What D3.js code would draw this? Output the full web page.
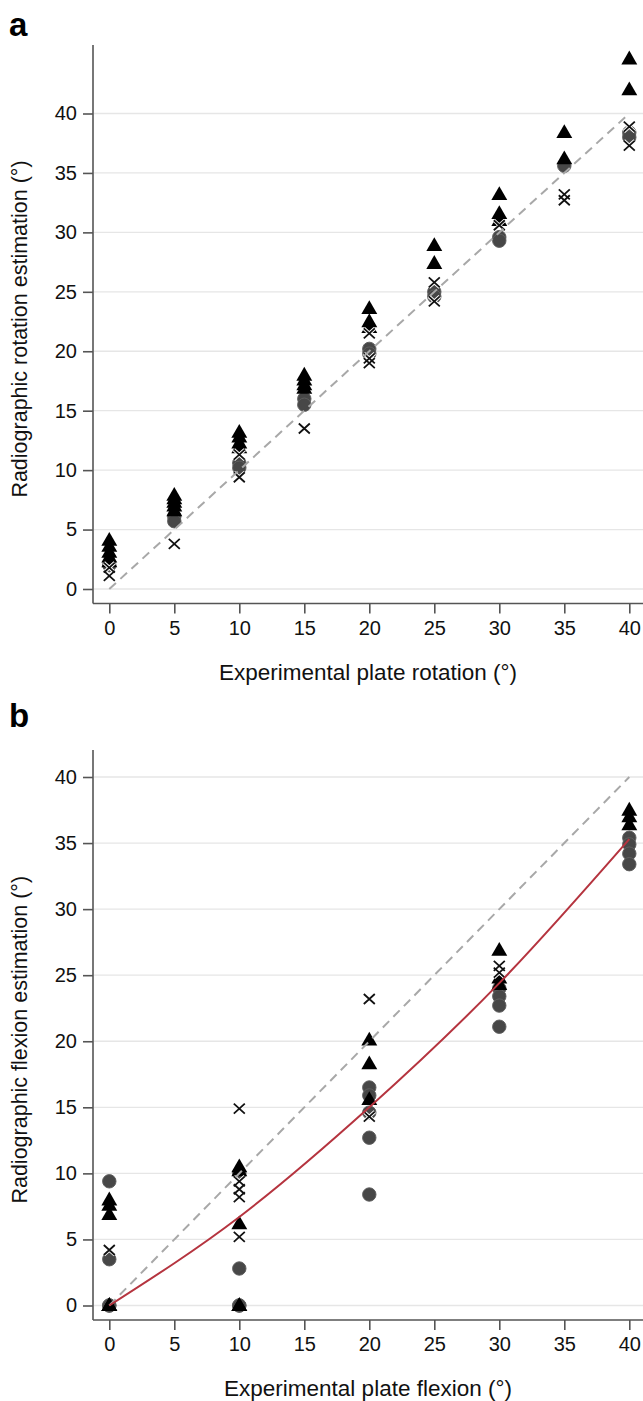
<!DOCTYPE html>
<html>
<head>
<meta charset="utf-8">
<script src="https://cdn.jsdelivr.net/npm/d3@7"></script>
<style>
  body { margin: 0; background: #fff; }
  text { font-family: "Liberation Sans", Arial, sans-serif; }
</style>
</head>
<body>
<script>
// Data
let rotX = [0, 5, 10, 15, 20, 25, 30, 35, 40];
let rotTri = [[4.1, 3.6, 3.1, 2.7, 2.3], [7.9, 7.6, 7.3, 7.0, 6.6], [13.2, 12.8, 12.3, 11.9], [18.0, 17.6, 17.2, 16.9],
  [23.6, 22.5, 22.0], [28.9, 27.4], [33.2, 31.6, 31.0], [38.4, 36.2], [44.6, 42.0]];
let rotCirc = [[2.0], [6.1, 5.7], [10.6, 10.2], [16.0, 15.5], [20.2, 19.8], [25.0, 24.6], [29.6, 29.3], [35.6], [38.4, 38.0]];
let rotCross = [[1.1, 1.8], [3.8], [11.3, 9.4], [13.5], [21.5, 19.4, 19.0], [25.8, 24.2], [30.6], [33.2, 32.7], [38.9, 37.3]];

let flexX = [0, 10, 20, 30, 40];
let flexTri = [[8.0, 7.6, 6.9, 0, 0, 0], [10.5, 10.2, 6.2, 0, 0], [20.1, 18.3, 15.6], [26.9, 24.8, 24.3], [37.5, 37.0, 36.4]];
let flexCirc = [[9.4, 3.5, 0, 0], [10.0, 2.8, 0, 0], [16.5, 15.9, 14.6, 12.7, 8.4], [24.0, 23.4, 22.7, 21.1], [35.4, 34.9, 34.2, 33.4]];
let flexCross = [[4.2], [14.9, 9.4, 8.8, 8.2, 5.2], [23.2, 14.3], [25.7, 25.2], []];

// fitted curve (read at a few points)
let fitX = [0, 10, 20, 30, 40];
let fitY = [0, 6.7, 15.0, 24.4, 35.3];

let xTicks = [0, 5, 10, 15, 20, 25, 30, 35, 40];
let yTicks = [0, 5, 10, 15, 20, 25, 30, 35, 40];

let width = 643, height = 1401;
let svg = d3.select("body").append("svg")
  .attr("width", width)
  .attr("height", height);

function flatten(xs, groups) {
  let out = [];
  groups.forEach((g, i) => g.forEach(v => out.push([xs[i], v])));
  return out;
}

function panel(cfg) {
  let x = d3.scaleLinear().domain([0, 40]).range([109.3, 629.3]);
  let y = d3.scaleLinear().domain([0, 40]).range([cfg.y0, cfg.y40]);
  let g = svg.append("g");
  let axisLeftX = 93;
  let axisBottomY = cfg.y0 + 14.5;

  // gridlines
  g.selectAll(".grid").data(yTicks).enter().append("line")
    .attr("x1", axisLeftX + 1).attr("x2", width)
    .attr("y1", d => y(d)).attr("y2", d => y(d))
    .attr("stroke", "#e6e6e6").attr("stroke-width", 1.3);

  // markers
  let circ = flatten(cfg.xs, cfg.circ);
  g.selectAll(".circ").data(circ).enter().append("circle")
    .attr("cx", d => x(d[0])).attr("cy", d => y(d[1]))
    .attr("r", 6.7)
    .attr("fill", "#474747").attr("stroke", "#5e5e5e").attr("stroke-width", 1);

  let tri = flatten(cfg.xs, cfg.tri);
  g.selectAll(".tri").data(tri).enter().append("path")
    .attr("d", d3.symbol().type(d3.symbolTriangle).size(110))
    .attr("transform", d => `translate(${x(d[0])},${y(d[1]) + 1})`)
    .attr("fill", "#000");

  let cross = flatten(cfg.xs, cfg.cross);
  let crossPath = "M-5.5,-5L5.5,5M-5.5,5L5.5,-5";
  g.selectAll(".crossh").data(cross).enter().append("path")
    .attr("d", crossPath)
    .attr("transform", d => `translate(${x(d[0])},${y(d[1])})`)
    .attr("stroke", "#fff").attr("stroke-width", 3.6).attr("fill", "none");
  g.selectAll(".cross").data(cross).enter().append("path")
    .attr("d", crossPath)
    .attr("transform", d => `translate(${x(d[0])},${y(d[1])})`)
    .attr("stroke", "#111").attr("stroke-width", 1.8).attr("fill", "none");

  // identity line
  g.append("line")
    .attr("x1", x(0)).attr("y1", y(0))
    .attr("x2", x(40)).attr("y2", y(40))
    .attr("stroke", "#a8a8a8").attr("stroke-width", 2)
    .attr("stroke-dasharray", "9,6");

  if (cfg.fit) {
    g.append("path")
      .datum(fitX.map((v, i) => [v, fitY[i]]))
      .attr("d", d3.line().x(d => x(d[0])).y(d => y(d[1])).curve(d3.curveMonotoneX))
      .attr("fill", "none").attr("stroke", "#b5343f").attr("stroke-width", 2);
  }

  // axes
  let yAxis = g.append("g")
    .attr("transform", `translate(${axisLeftX},0)`)
    .call(d3.axisLeft(y).tickValues(yTicks).tickSize(10).tickPadding(6));
  yAxis.select(".domain").remove();
  yAxis.append("line")
    .attr("x1", 0).attr("x2", 0).attr("y1", cfg.axisTop).attr("y2", axisBottomY)
    .attr("stroke", "#555").attr("stroke-width", 1.6);

  let xAxis = g.append("g")
    .attr("transform", `translate(0,${axisBottomY})`)
    .call(d3.axisBottom(x).tickValues(xTicks).tickSize(10).tickPadding(7));
  xAxis.select(".domain").remove();
  xAxis.append("line")
    .attr("x1", axisLeftX).attr("x2", width).attr("y1", 0).attr("y2", 0)
    .attr("stroke", "#555").attr("stroke-width", 1.6);

  [yAxis, xAxis].forEach(a => {
    a.selectAll(".tick line").attr("stroke", "#555").attr("stroke-width", 1.6);
    a.selectAll(".tick text").attr("fill", "#111").style("font-size", "20px")
      .style("font-family", "'Liberation Sans', Arial, sans-serif");
  });

  // titles
  g.append("text")
    .attr("x", 368).attr("y", axisBottomY + 76)
    .attr("text-anchor", "middle")
    .style("font-size", "22.5px").attr("fill", "#111")
    .text(cfg.xLabel);

  g.append("text")
    .attr("transform", `translate(27,${(cfg.y0 + cfg.axisTop) / 2 + 12}) rotate(-90)`)
    .attr("text-anchor", "middle")
    .style("font-size", "21.5px").attr("fill", "#111")
    .text(cfg.yLabel);

  g.append("text")
    .attr("x", 9).attr("y", cfg.letterY)
    .style("font-size", "33px").style("font-weight", "bold").attr("fill", "#000")
    .text(cfg.letter);
}

panel({
  xs: rotX, tri: rotTri, circ: rotCirc, cross: rotCross,
  y0: 589, y40: 113.5, axisTop: 45, letterY: 36, letter: "a",
  xLabel: "Experimental plate rotation (°)",
  yLabel: "Radiographic rotation estimation (°)", fit: false
});

panel({
  xs: flexX, tri: flexTri, circ: flexCirc, cross: flexCross,
  y0: 1305.5, y40: 777, axisTop: 750, letterY: 727, letter: "b",
  xLabel: "Experimental plate flexion (°)",
  yLabel: "Radiographic flexion estimation (°)", fit: true
});
</script>
</body>
</html>
